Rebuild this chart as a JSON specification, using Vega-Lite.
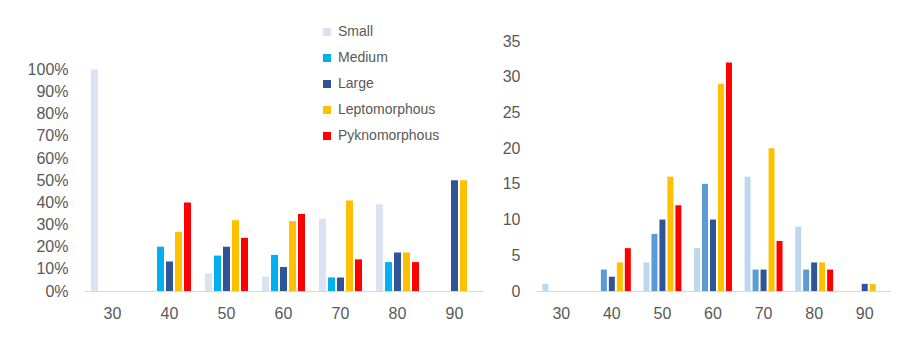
{
  "$schema": "https://vega.github.io/schema/vega-lite/v6.json",
  "padding": {"left": 27, "top": 25, "right": 5, "bottom": 5},
  "background": "white",
  "bounds": "flush",
  "spacing": 53,
  "data": {"values": [
    {"age": "30", "size": "Small", "count": 1, "share": 1.0},
    {"age": "40", "size": "Medium", "count": 3, "share": 0.2},
    {"age": "40", "size": "Large", "count": 2, "share": 0.1333},
    {"age": "40", "size": "Leptomorphous", "count": 4, "share": 0.2667},
    {"age": "40", "size": "Pyknomorphous", "count": 6, "share": 0.4},
    {"age": "50", "size": "Small", "count": 4, "share": 0.08},
    {"age": "50", "size": "Medium", "count": 8, "share": 0.16},
    {"age": "50", "size": "Large", "count": 10, "share": 0.2},
    {"age": "50", "size": "Leptomorphous", "count": 16, "share": 0.32},
    {"age": "50", "size": "Pyknomorphous", "count": 12, "share": 0.24},
    {"age": "60", "size": "Small", "count": 6, "share": 0.0652},
    {"age": "60", "size": "Medium", "count": 15, "share": 0.163},
    {"age": "60", "size": "Large", "count": 10, "share": 0.1087},
    {"age": "60", "size": "Leptomorphous", "count": 29, "share": 0.3152},
    {"age": "60", "size": "Pyknomorphous", "count": 32, "share": 0.3478},
    {"age": "70", "size": "Small", "count": 16, "share": 0.3265},
    {"age": "70", "size": "Medium", "count": 3, "share": 0.0612},
    {"age": "70", "size": "Large", "count": 3, "share": 0.0612},
    {"age": "70", "size": "Leptomorphous", "count": 20, "share": 0.4082},
    {"age": "70", "size": "Pyknomorphous", "count": 7, "share": 0.1429},
    {"age": "80", "size": "Small", "count": 9, "share": 0.3913},
    {"age": "80", "size": "Medium", "count": 3, "share": 0.1304},
    {"age": "80", "size": "Large", "count": 4, "share": 0.1739},
    {"age": "80", "size": "Leptomorphous", "count": 4, "share": 0.1739},
    {"age": "80", "size": "Pyknomorphous", "count": 3, "share": 0.1304},
    {"age": "90", "size": "Large", "count": 1, "share": 0.5},
    {"age": "90", "size": "Leptomorphous", "count": 1, "share": 0.5}
  ]},
  "hconcat": [
    {
      "width": 399,
      "height": 250,
      "mark": {"type": "bar"},
      "encoding": {
        "x": {"field": "age", "type": "ordinal",
          "scale": {"domain": ["30","40","50","60","70","80","90"], "paddingInner": 0.245, "paddingOuter": 0.1225},
          "axis": {"title": null}},
        "xOffset": {"field": "size", "type": "nominal",
          "scale": {"domain": ["Small","Medium","Large","Leptomorphous","Pyknomorphous"], "paddingInner": 0.22, "paddingOuter": 0}},
        "y": {"field": "share", "type": "quantitative",
          "scale": {"domain": [0, 1.1287], "nice": false},
          "axis": {"title": null, "values": [0,0.1,0.2,0.3,0.4,0.5,0.6,0.7,0.8,0.9,1.0], "format": ".0%"}},
        "color": {"field": "size", "type": "nominal",
          "scale": {"domain": ["Small","Medium","Large","Leptomorphous","Pyknomorphous"],
                    "range": ["#DAE3F3","#00B0F0","#2F5597","#FFC000","#FF0000"]},
          "legend": {"orient": "none", "legendX": 236, "legendY": -16, "title": null,
            "symbolType": "square", "symbolSize": 64, "symbolStrokeWidth": 0,
            "labelFontSize": 14, "labelColor": "#595959", "labelOffset": 4,
            "rowPadding": 12, "padding": 0}}
      }
    },
    {
      "width": 354,
      "height": 250,
      "mark": {"type": "bar"},
      "encoding": {
        "x": {"field": "age", "type": "ordinal",
          "scale": {"domain": ["30","40","50","60","70","80","90"], "paddingInner": 0.25, "paddingOuter": 0.125},
          "axis": {"title": null}},
        "xOffset": {"field": "size", "type": "nominal",
          "scale": {"domain": ["Small","Medium","Large","Leptomorphous","Pyknomorphous"], "paddingInner": 0.25, "paddingOuter": 0}},
        "y": {"field": "count", "type": "quantitative",
          "scale": {"domain": [0, 35], "nice": false},
          "axis": {"title": null, "values": [0,5,10,15,20,25,30,35]}},
        "color": {"field": "size", "type": "nominal",
          "scale": {"domain": ["Small","Medium","Large","Leptomorphous","Pyknomorphous"],
                    "range": ["#BDD7EE","#5B9BD5","#2F5597","#FFC000","#FF0000"]},
          "legend": null}
      }
    }
  ],
  "resolve": {
    "scale": {"color": "independent", "x": "independent", "y": "independent", "xOffset": "independent"},
    "legend": {"color": "independent"}
  },
  "config": {
    "font": "Liberation Sans",
    "view": {"stroke": null},
    "axisX": {"domainColor": "#D9D9D9", "domainWidth": 1, "ticks": false, "labelFontSize": 16, "labelColor": "#595959", "labelPadding": 14, "labelAngle": 0, "grid": false},
    "axisY": {"domain": false, "ticks": false, "grid": false, "labelFontSize": 16, "labelColor": "#595959", "labelPadding": 16}
  }
}
